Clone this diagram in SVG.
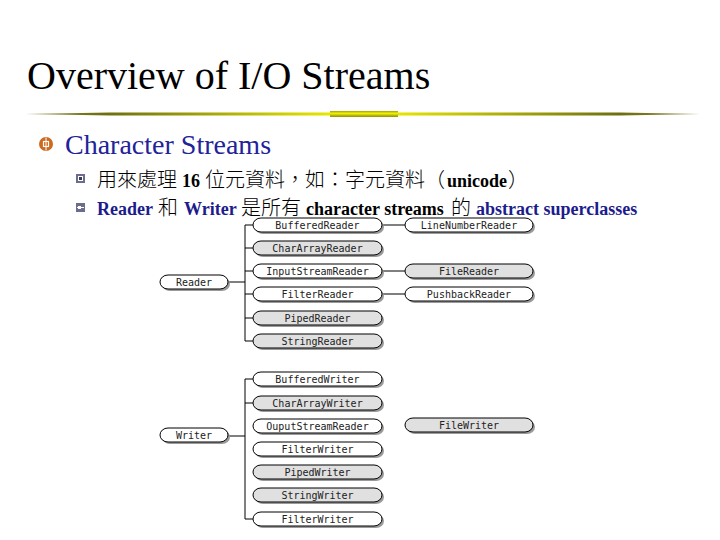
<svg xmlns="http://www.w3.org/2000/svg" width="720" height="540" viewBox="0 0 720 540">
<defs>
<linearGradient id="lineg" x1="25" y1="0" x2="700" y2="0" gradientUnits="userSpaceOnUse">
<stop offset="0" stop-color="#8a8a40"/>
<stop offset="0.12" stop-color="#6e6e10"/>
<stop offset="0.45" stop-color="#e6e600"/>
<stop offset="0.55" stop-color="#e6e600"/>
<stop offset="0.88" stop-color="#6e6e10"/>
<stop offset="1" stop-color="#8a8a40"/>
</linearGradient>
<linearGradient id="midg" x1="0" y1="111" x2="0" y2="117" gradientUnits="userSpaceOnUse">
<stop offset="0" stop-color="#a0a010"/>
<stop offset="0.4" stop-color="#f2f200"/>
<stop offset="1" stop-color="#8c8c10"/>
</linearGradient>
</defs>
<style>
.title{font-family:"Liberation Serif","Times New Roman",serif;font-size:40px;fill:#000}
.h1{font-family:"Liberation Serif","Times New Roman",serif;font-size:28px;fill:#22229a}
.t2{font-family:"Liberation Serif","Noto Sans CJK TC",serif;font-size:18px;fill:#000}
.b{font-weight:bold}
.blue{fill:#1c1c8c}
.cjk{font-family:"Noto Sans CJK TC",sans-serif;font-size:20px;font-weight:300}
.node{stroke:#000;stroke-width:1}
.w{fill:#fff}
.g{fill:#e0e0e0}
.sh{fill:#9a9a9a}
.lbl{font-family:"DejaVu Sans Mono","Liberation Mono",monospace;font-size:10px;fill:#222;text-anchor:middle}
.conn{stroke:#000;stroke-width:1;fill:none}
</style>
<rect width="720" height="540" fill="#fff"/>

<g id="title">
<text class="title" x="27" y="89">Overview of I/O Streams</text>
<polygon points="25,114 110,112.6 330,112.6 330,115.4 110,115.4" fill="url(#lineg)"/>
<polygon points="398,112.6 620,112.6 700,114 620,115.4 398,115.4" fill="url(#lineg)"/>
<rect x="330" y="111" width="68" height="6" fill="url(#midg)"/>
</g>

<g id="bullets">
<circle cx="46" cy="144" r="7" fill="#cc6a1e"/>
<rect x="43.5" y="141.5" width="5" height="5" fill="none" stroke="#fff" stroke-width="1.2"/>
<line x1="46" y1="137.5" x2="46" y2="150.5" stroke="#fff" stroke-width="1"/>
<text class="h1" x="65" y="154">Character Streams</text>

<rect x="76" y="174" width="9" height="9" fill="#6c6c8c"/>
<rect x="78.5" y="176.5" width="4" height="4" fill="#3a3a5a" stroke="#fff" stroke-width="1"/>
<text class="t2" y="187"><tspan class="cjk" x="97">用來處理</tspan><tspan class="b" x="182">16</tspan><tspan class="cjk" x="205">位元資料，如：字元資料（</tspan><tspan class="b" x="447">unicode</tspan><tspan class="cjk" x="508">）</tspan></text>

<rect x="76" y="203" width="9" height="9" fill="#6c6c8c"/>
<line x1="77" y1="207.5" x2="84" y2="207.5" stroke="#fff" stroke-width="1"/>
<rect x="78" y="206" width="3" height="3" fill="#fff"/>
<text class="t2" y="215"><tspan class="b blue" x="97">Reader</tspan><tspan class="cjk" x="158">和</tspan><tspan class="b blue" x="184">Writer</tspan><tspan class="cjk" x="241">是所有</tspan><tspan class="b" x="306">character streams</tspan><tspan class="cjk" x="451">的</tspan><tspan class="b blue" x="476">abstract superclasses</tspan></text>
</g>

<g id="connectors">
<polyline class="conn" points="253,225 245,225 245,341 253,341"/>
<line class="conn" x1="245" y1="248" x2="253" y2="248"/>
<line class="conn" x1="245" y1="271" x2="253" y2="271"/>
<line class="conn" x1="245" y1="294" x2="253" y2="294"/>
<line class="conn" x1="245" y1="318" x2="253" y2="318"/>
<line class="conn" x1="228" y1="282" x2="245" y2="282"/>
<line class="conn" x1="382" y1="225" x2="405" y2="225"/>
<line class="conn" x1="382" y1="271" x2="405" y2="271"/>
<line class="conn" x1="382" y1="294" x2="405" y2="294"/>
<polyline class="conn" points="253,379 245,379 245,519 253,519"/>
<line class="conn" x1="245" y1="403" x2="253" y2="403"/>
<line class="conn" x1="228" y1="436" x2="245" y2="436"/>
</g>

<g id="Reader"><rect class="sh" x="162" y="277" width="68" height="14" rx="8" ry="7"/><rect class="node w" x="160" y="275" width="68" height="14" rx="8" ry="7"/><text class="lbl" x="194" y="285.5">Reader</text></g>
<g id="BufferedReader"><rect class="sh" x="255" y="220" width="129" height="14" rx="8" ry="7"/><rect class="node w" x="253" y="218" width="129" height="14" rx="8" ry="7"/><text class="lbl" x="317.5" y="228.5">BufferedReader</text></g>
<g id="CharArrayReader"><rect class="sh" x="255" y="243" width="129" height="14" rx="8" ry="7"/><rect class="node g" x="253" y="241" width="129" height="14" rx="8" ry="7"/><text class="lbl" x="317.5" y="251.5">CharArrayReader</text></g>
<g id="InputStreamReader"><rect class="sh" x="255" y="266" width="129" height="14" rx="8" ry="7"/><rect class="node w" x="253" y="264" width="129" height="14" rx="8" ry="7"/><text class="lbl" x="317.5" y="274.5">InputStreamReader</text></g>
<g id="FilterReader"><rect class="sh" x="255" y="289" width="129" height="14" rx="8" ry="7"/><rect class="node w" x="253" y="287" width="129" height="14" rx="8" ry="7"/><text class="lbl" x="317.5" y="297.5">FilterReader</text></g>
<g id="PipedReader"><rect class="sh" x="255" y="313" width="129" height="14" rx="8" ry="7"/><rect class="node g" x="253" y="311" width="129" height="14" rx="8" ry="7"/><text class="lbl" x="317.5" y="321.5">PipedReader</text></g>
<g id="StringReader"><rect class="sh" x="255" y="336" width="129" height="14" rx="8" ry="7"/><rect class="node g" x="253" y="334" width="129" height="14" rx="8" ry="7"/><text class="lbl" x="317.5" y="344.5">StringReader</text></g>
<g id="LineNumberReader"><rect class="sh" x="407" y="220" width="128" height="14" rx="8" ry="7"/><rect class="node w" x="405" y="218" width="128" height="14" rx="8" ry="7"/><text class="lbl" x="469" y="228.5">LineNumberReader</text></g>
<g id="FileReader"><rect class="sh" x="407" y="266" width="128" height="14" rx="8" ry="7"/><rect class="node g" x="405" y="264" width="128" height="14" rx="8" ry="7"/><text class="lbl" x="469" y="274.5">FileReader</text></g>
<g id="PushbackReader"><rect class="sh" x="407" y="289" width="128" height="14" rx="8" ry="7"/><rect class="node w" x="405" y="287" width="128" height="14" rx="8" ry="7"/><text class="lbl" x="469" y="297.5">PushbackReader</text></g>

<g id="Writer"><rect class="sh" x="162" y="430" width="68" height="14" rx="8" ry="7"/><rect class="node w" x="160" y="428" width="68" height="14" rx="8" ry="7"/><text class="lbl" x="194" y="438.5">Writer</text></g>
<g id="BufferedWriter"><rect class="sh" x="255" y="374" width="129" height="14" rx="8" ry="7"/><rect class="node w" x="253" y="372" width="129" height="14" rx="8" ry="7"/><text class="lbl" x="317.5" y="382.5">BufferedWriter</text></g>
<g id="CharArrayWriter"><rect class="sh" x="255" y="398" width="129" height="14" rx="8" ry="7"/><rect class="node g" x="253" y="396" width="129" height="14" rx="8" ry="7"/><text class="lbl" x="317.5" y="406.5">CharArrayWriter</text></g>
<g id="OuputStreamReader"><rect class="sh" x="255" y="421" width="129" height="14" rx="8" ry="7"/><rect class="node w" x="253" y="419" width="129" height="14" rx="8" ry="7"/><text class="lbl" x="317.5" y="429.5">OuputStreamReader</text></g>
<g id="FilterWriter1"><rect class="sh" x="255" y="444" width="129" height="14" rx="8" ry="7"/><rect class="node w" x="253" y="442" width="129" height="14" rx="8" ry="7"/><text class="lbl" x="317.5" y="452.5">FilterWriter</text></g>
<g id="PipedWriter"><rect class="sh" x="255" y="467" width="129" height="14" rx="8" ry="7"/><rect class="node g" x="253" y="465" width="129" height="14" rx="8" ry="7"/><text class="lbl" x="317.5" y="475.5">PipedWriter</text></g>
<g id="StringWriter"><rect class="sh" x="255" y="490" width="129" height="14" rx="8" ry="7"/><rect class="node g" x="253" y="488" width="129" height="14" rx="8" ry="7"/><text class="lbl" x="317.5" y="498.5">StringWriter</text></g>
<g id="FilterWriter2"><rect class="sh" x="255" y="514" width="129" height="14" rx="8" ry="7"/><rect class="node w" x="253" y="512" width="129" height="14" rx="8" ry="7"/><text class="lbl" x="317.5" y="522.5">FilterWriter</text></g>
<g id="FileWriter"><rect class="sh" x="407" y="420" width="128" height="14" rx="8" ry="7"/><rect class="node g" x="405" y="418" width="128" height="14" rx="8" ry="7"/><text class="lbl" x="469" y="428.5">FileWriter</text></g>
</svg>
